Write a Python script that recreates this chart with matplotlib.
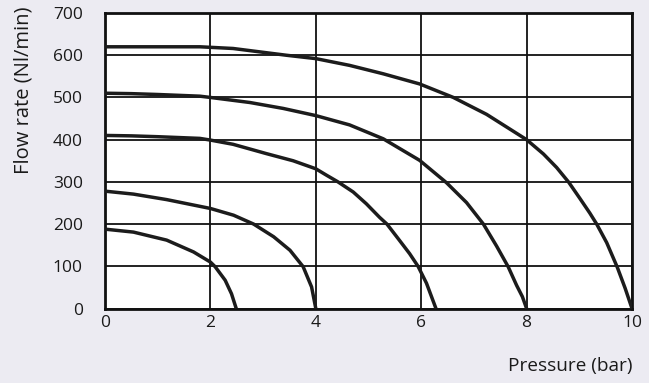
import matplotlib
matplotlib.use("Agg")
import matplotlib.pyplot as plt

# Read-off points (pressure in bar, flow rate in Nl/min) for each curve
c1_x = [0, 0.54, 1.17, 1.68, 2.0, 2.09, 2.28, 2.40, 2.49]
c1_y = [188, 181, 162, 134, 110, 99, 67, 35, 0]

c2_x = [0, 0.54, 1.17, 2.0, 2.44, 2.82, 3.2, 3.51, 3.76, 3.92, 4.0]
c2_y = [278, 271, 258, 237, 221, 200, 170, 138, 99, 51, 0]

c3_x = [0, 0.5, 1.0, 1.8, 2.0, 2.43, 3.06, 3.57, 4.0, 4.2, 4.42, 4.71, 4.96, 5.21,
        5.35, 5.56, 5.78, 5.94, 6.1, 6.28]
c3_y = [410, 409, 407, 403, 399, 389, 367, 350, 331, 316, 300, 276, 248, 216,
        200, 166, 130, 100, 60, 0]

c4_x = [0, 0.5, 1.0, 1.8, 2.0, 2.75, 3.38, 4.0, 4.64, 5.28, 5.97, 6.48, 6.86, 7.18,
        7.43, 7.65, 7.81, 7.92, 8.0]
c4_y = [510, 509, 507, 503, 500, 488, 474, 457, 435, 402, 351, 298, 251, 200,
        148, 99, 55, 28, 0]

c5_x = [0, 1.0, 1.8, 2.43, 3.06, 3.44, 4.0, 4.64, 5.28, 5.97, 6.61, 7.24, 8.0, 8.32,
        8.57, 8.8, 9.01, 9.2, 9.33, 9.52, 9.72, 9.87, 10.0]
c5_y = [620, 620, 620, 616, 606, 600, 592, 576, 556, 532, 500, 460, 400, 366,
        334, 299, 261, 226, 200, 156, 98, 48, 0]

curves = [(c1_x, c1_y), (c2_x, c2_y), (c3_x, c3_y), (c4_x, c4_y), (c5_x, c5_y)]

x_ticks = [0, 2, 4, 6, 8, 10]
y_ticks = [0, 100, 200, 300, 400, 500, 600, 700]

font = "Open Sans"
bg = "#ecebf2"

fig = plt.figure(figsize=(6.49, 3.83), dpi=100, facecolor=bg)
ax = fig.add_axes([0.1618, 0.1945, 0.812, 0.7715])
ax.set_facecolor("white")

for xs, ys in curves:
    ax.plot(xs, ys, color="#1c1c1c", lw=2.5, solid_capstyle="butt",
            solid_joinstyle="round", zorder=3)

ax.set_xlim(0, 10)
ax.set_ylim(0, 700)
ax.set_xticks(x_ticks)
ax.set_yticks(y_ticks)
ax.grid(True, color="#111111", lw=1.3)
ax.tick_params(length=0, labelsize=12.5, colors="#1a1a1a")
for lab in ax.get_xticklabels() + ax.get_yticklabels():
    lab.set_fontfamily(font)
ax.tick_params(axis="y", pad=16)
ax.tick_params(axis="x", pad=5)
for s in ax.spines.values():
    s.set_linewidth(2.0)
    s.set_color("#111111")

fig.text(0.036, 0.765, "Flow rate (Nl/min)", rotation=90, ha="center", va="center",
         fontsize=14.5, family=font, color="#1a1a1a")
fig.text(0.974, 0.045, "Pressure (bar)", ha="right", va="center",
         fontsize=13.7, family=font, color="#1a1a1a")

fig.savefig("out.png", dpi=100, facecolor=bg)
